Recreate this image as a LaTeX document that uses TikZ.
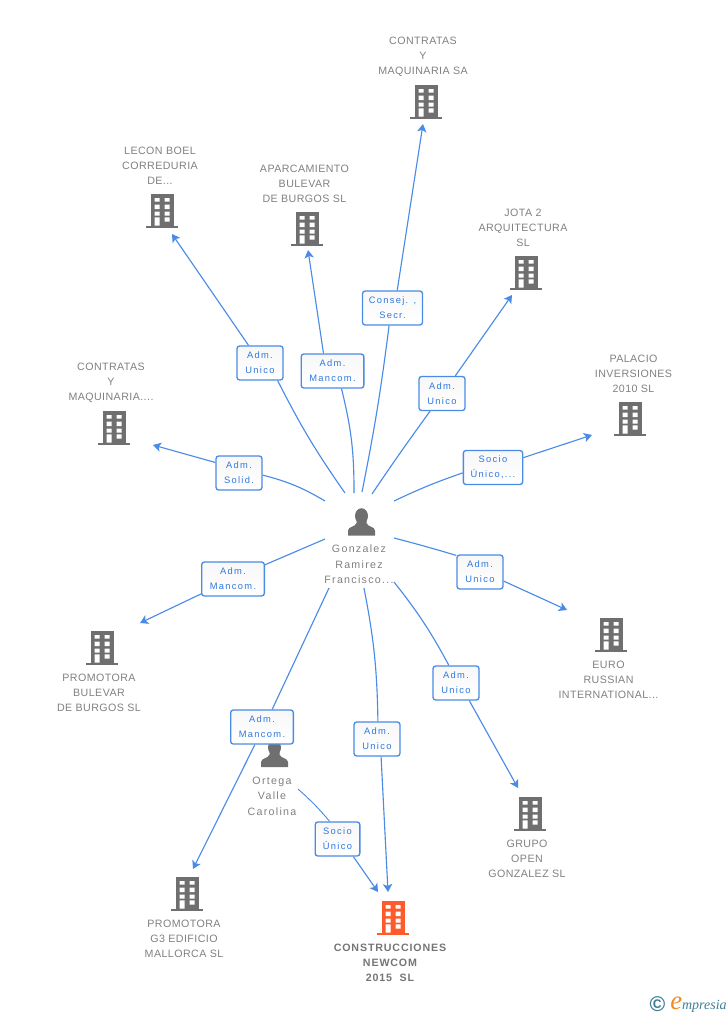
\documentclass[tikz,border=0pt]{standalone}
\usepackage{fontspec}
\setmainfont{Liberation Sans}[LetterSpace=4]
\newfontfamily\logofont{Liberation Serif}
\newfontfamily\rolefont{Liberation Sans}[LetterSpace=14]
\newfontfamily\personfont{Liberation Sans}[LetterSpace=12]
\newfontfamily\mainfont{Liberation Sans}[LetterSpace=8]
\usetikzlibrary{arrows.meta,shadings}
\definecolor{icongrey}{HTML}{6F6F6F}
\definecolor{textgrey}{HTML}{808080}
\definecolor{boldgrey}{HTML}{757575}
\definecolor{linkblue}{HTML}{4A8BE6}
\definecolor{labelblue}{HTML}{2F78E0}
\definecolor{mainorange}{HTML}{FF5A2B}
\definecolor{logoteal}{HTML}{3F7F96}
\definecolor{logoorange}{HTML}{F28A1E}
\pgfdeclarelayer{lines}
\pgfdeclarelayer{figures}
\pgfsetlayers{lines,figures,main}
\tikzset{
  x=0.75pt,y=-0.75pt,
  caption/.style={text=textgrey,align=center,inner sep=0pt,font=\fontsize{8}{11.25}\selectfont},
  personcaption/.style={text=textgrey,align=center,inner sep=0pt,font=\personfont\fontsize{8}{11.7}\selectfont},
  maincaption/.style={text=boldgrey,align=center,inner sep=0pt,font=\mainfont\fontsize{8}{11.25}\selectfont\bfseries},
  rolebox/.style={draw=linkblue,line width=1pt,rounded corners=2pt,top color=black!3,bottom color=white,
    text=labelblue,align=center,inner sep=0pt,minimum height=25.5pt,font=\rolefont\fontsize{7}{11.25}\selectfont},
  link/.style={draw=linkblue,line width=0.85pt},
  linkend/.style={link,-{Stealth[length=6pt,width=7pt,inset=1.5pt]}},
  pics/building/.style={code={
    \fill[#1] (-11,-17) rectangle (11.5,15);
    \fill[#1] (-16,15) rectangle (16,17);
    \fill[white]
      (-7.5,-13) rectangle (-2.5,-9.3)
      (2.5,-13) rectangle (7.5,-9.3)
      (-7.5,-6.3) rectangle (-2.5,-2)
      (2.5,-6.3) rectangle (7.5,-2)
      (-7.5,0.7) rectangle (-2.5,4.7)
      (2.5,0.7) rectangle (7.5,4.7)
      (-7.5,6.3) rectangle (-2.5,14.7)
      (2.5,6.3) rectangle (7.5,10.7);
  }},
  pics/person/.style={code={
    \fill[icongrey] (0,-6) ellipse [x radius=6.5,y radius=7.8];
    \fill[icongrey] (-13.5,13.5) -- (-13.5,8.5) .. controls (-13.5,4.5) and (-6,5) .. (-5,1)
      -- (-5,-2) -- (5,-2) -- (5,1) .. controls (6,5) and (13.5,4.5) .. (13.5,8.5) -- (13.5,13.5) -- cycle;
  }},
}
\begin{document}
\begin{tikzpicture}
\useasboundingbox (0,0) rectangle (728,1015);

% connector ends
\coordinate (s1) at (362,492);  \coordinate (e1) at (423,124);
\coordinate (s2) at (345,493);  \coordinate (e2) at (172,234);
\coordinate (s3) at (354,493);  \coordinate (e3) at (308,250);
\coordinate (s4) at (372,494);  \coordinate (e4) at (512,295);
\coordinate (s5) at (394,501);  \coordinate (e5) at (592,435);
\coordinate (s6) at (325,501);  \coordinate (e6) at (153,445);
\coordinate (s7) at (325,539);  \coordinate (e7) at (140,623);
\coordinate (s8) at (394,538);  \coordinate (e8) at (567,610);
\coordinate (s9) at (394,582);  \coordinate (e9) at (518,788);
\coordinate (s10) at (364,588); \coordinate (e10) at (388,892);
\coordinate (s11) at (329,588); \coordinate (e11) at (193,869);
\coordinate (s12) at (298,789); \coordinate (e12) at (378,892);

% role labels
\node[rolebox,minimum width=45pt]   (r1)  at (392.5,308) {Consej. ,\\Secr.};
\node[rolebox,minimum width=34.5pt] (r2)  at (260,363)   {Adm.\\Unico};
\node[rolebox,minimum width=47pt]   (r3)  at (332.5,371) {Adm.\\Mancom.};
\node[rolebox,minimum width=34.5pt] (r4)  at (442,393.5) {Adm.\\Unico};
\node[rolebox,minimum width=44.5pt] (r5)  at (493,467.5) {Socio\\Único,...};
\node[rolebox,minimum width=34.5pt] (r6)  at (239,473)   {Adm.\\Solid.};
\node[rolebox,minimum width=47pt]   (r7)  at (233,579)   {Adm.\\Mancom.};
\node[rolebox,minimum width=34.5pt] (r8)  at (480,572)   {Adm.\\Unico};
\node[rolebox,minimum width=34.5pt] (r9)  at (456,683)   {Adm.\\Unico};
\node[rolebox,minimum width=34.5pt] (r10) at (377,739)   {Adm.\\Unico};
\node[rolebox,minimum width=47pt]   (r11) at (262,727)   {Adm.\\Mancom.};
\node[rolebox,minimum width=33.5pt] (r12) at (337.5,839) {Socio\\Único};

% connectors
\begin{pgfonlayer}{lines}
\draw[link] (s1) to[bend right=2] (r1.-101);  \draw[linkend] (r1.75) -- (e1);
\draw[link] (s2) to[bend left=4] (r2.-45);    \draw[linkend] (r2.123) -- (e2);
\draw[link] (s3) to[bend right=7] (r3.-63);   \draw[linkend] (r3.117) -- (e3);
\draw[link] (s4) to[bend left=1] (r4.-124);   \draw[linkend] (r4.53) -- (e4);
\draw[link] (s5) to[bend left=3] (r5.-170);   \draw[linkend] (r5.18) -- (e5);
\draw[link] (s6) to[bend right=8] (r6.-5);    \draw[linkend] (r6.156) -- (e6);
\draw[link] (s7) -- (r7.24);                  \draw[linkend] (r7.-155) -- (e7);
\draw[link] (s8) to[bend left=1] (r8.145);    \draw[linkend] (r8.-21) -- (e8);
\draw[link] (s9) to[bend left=5] (r9.112);    \draw[linkend] (r9.-53) -- (e9);
\draw[link] (s10) to[bend left=5] (r10.87);   \draw[linkend] (r10.-77) -- (e10);
\draw[link] (s11) -- (r11.60);                \draw[linkend] (r11.-112) -- (e11);
\draw[link,line width=0.7pt] (s12) to[bend left=4] (r12.114);
\draw[linkend] (r12.-48) -- (e12);
\end{pgfonlayer}

% people
\begin{pgfonlayer}{figures}
\pic at (361.5,522) {person};
\pic at (274.5,753.5) {person};
\end{pgfonlayer}

% buildings
\pic at (426,102) {building=icongrey};
\pic at (162,211) {building=icongrey};
\pic at (307,229) {building=icongrey};
\pic at (526,273) {building=icongrey};
\pic at (630,419) {building=icongrey};
\pic at (114,428) {building=icongrey};
\pic at (102,648) {building=icongrey};
\pic at (611,635) {building=icongrey};
\pic at (530,814) {building=icongrey};
\pic at (187,894) {building=icongrey};
\pic at (393,918) {building=mainorange};

% captions
\node[caption] (t1) at (423,57) {CONTRATAS\\Y\\MAQUINARIA SA};
\node[caption] (t2) at (160,166) {LECON BOEL\\CORREDURIA\\DE...};
\node[caption] (t3) at (304.5,184) {APARCAMIENTO\\BULEVAR\\DE BURGOS SL};
\node[caption] (t4) at (523,228) {JOTA 2\\ARQUITECTURA\\SL};
\node[caption] (t5) at (633.5,374) {PALACIO\\INVERSIONES\\2010 SL};
\node[caption] (t6) at (111,383) {CONTRATAS\\Y\\MAQUINARIA....};
\node[caption] (t7) at (99,693) {PROMOTORA\\BULEVAR\\DE BURGOS SL};
\node[caption] (t8) at (608.5,680) {EURO\\RUSSIAN\\INTERNATIONAL...};
\node[caption] (t9) at (527,859) {GRUPO\\OPEN\\GONZALEZ SL};
\node[caption] (t10) at (184,939) {PROMOTORA\\G3 EDIFICIO\\MALLORCA SL};
\node[maincaption] (t11) at (390,963) {CONSTRUCCIONES\\NEWCOM\\2015~~SL};
\node[personcaption] (t12) at (359,564.5) {Gonzalez\\Ramirez\\Francisco...};
\node[personcaption] (t13) at (272,796) {Ortega\\Valle\\Carolina};

% logo
\node[text=logoteal,inner sep=0pt,font=\fontsize{16}{16}\selectfont\bfseries] (c) at (657.5,1004) {©};
\node[anchor=base west,inner sep=0pt] (l) at (670,1009) {\logofont\itshape\fontsize{20}{20}\selectfont\textcolor{logoorange}{e}\fontsize{10.5}{11}\selectfont\textcolor{logoteal}{mpresia}};
\end{tikzpicture}
\end{document}
